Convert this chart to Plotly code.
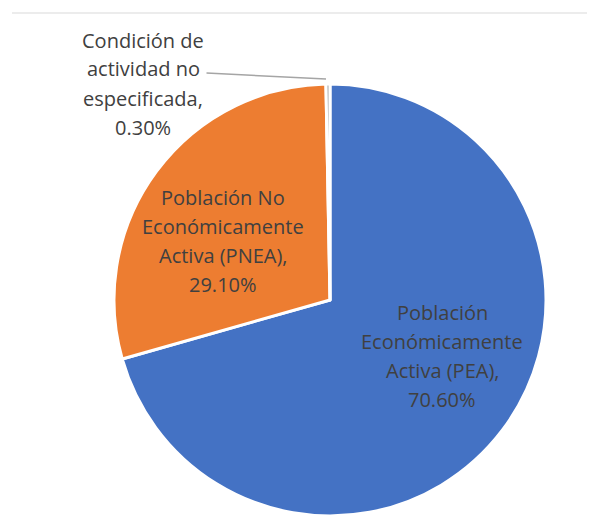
import plotly.graph_objects as go

# data
labels = [
    "Población Económicamente Activa (PEA)",
    "Población No Económicamente Activa (PNEA)",
    "Condición de actividad no especificada",
]
values = [70.6, 29.1, 0.3]
colors = ["#4472C4", "#ED7D31", "#A5A5A5"]

# how each label is broken into lines on the chart
label_lines = [
    ["Población", "Económicamente", "Activa (PEA),"],
    ["Población No", "Económicamente", "Activa (PNEA),"],
    ["Condición de", "actividad no", "especificada,"],
]

W, H = 595, 517
OFF = 8  # page body margin, the figure is drawn 8px in from the corner
font_family = "Open Sans"
text_color = "#404040"


def px_x(x):
    return (x - OFF) / W


def px_y(y):
    return 1 - (y - OFF) / H


fig = go.Figure()
fig.add_trace(go.Pie(
    labels=labels,
    values=values,
    marker=dict(colors=colors, line=dict(color="white", width=3)),
    sort=False,
    direction="clockwise",
    rotation=0,
    textinfo="none",
    hoverinfo="label+percent",
    showlegend=False,
    domain=dict(x=[px_x(114), px_x(546)], y=[px_y(516), px_y(84)]),
))

# label blocks: (center x px, first line y px) per slice
label_pos = [(442, 312), (223, 197), (143, 40)]
line_gap = 29

annotations = []
for lines, val, (cx, cy) in zip(label_lines, values, label_pos):
    for i, txt in enumerate(lines + [f"{val:.2f}%"]):
        annotations.append(dict(
            x=px_x(cx), y=px_y(cy + i * line_gap),
            xref="paper", yref="paper",
            text=txt, showarrow=False,
            xanchor="center", yanchor="middle",
            font=dict(family=font_family, size=20, color=text_color),
        ))

# leader line for the small slice
annotations.append(dict(
    x=px_x(326), y=px_y(79), xref="paper", yref="paper",
    ax=-121, ay=-6,
    text="", showarrow=True, arrowhead=0, arrowwidth=1.5, arrowcolor="#A5A5A5",
))

fig.update_layout(
    width=W,
    height=H,
    margin=dict(l=0, r=0, t=0, b=0),
    paper_bgcolor="white",
    plot_bgcolor="white",
    annotations=annotations,
    shapes=[dict(
        type="line", xref="paper", yref="paper",
        x0=px_x(12), x1=1, y0=px_y(13), y1=px_y(13),
        line=dict(color="#D9D9D9", width=1),
    )],
)

fig.write_html("out.html")
